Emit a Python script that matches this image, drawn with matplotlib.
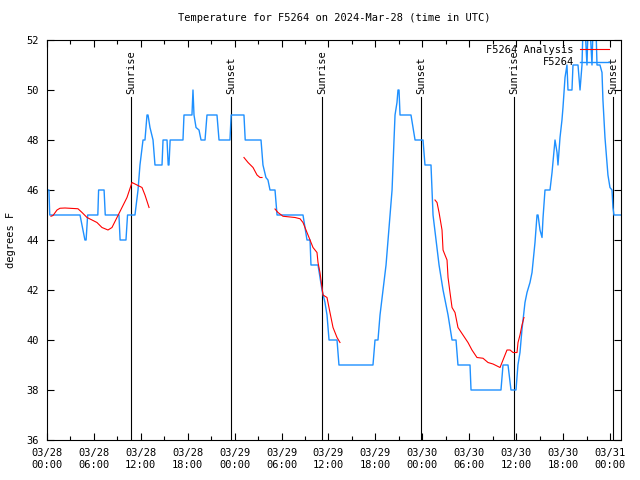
import matplotlib
matplotlib.use("Agg")
import matplotlib.pyplot as plt
from matplotlib.ticker import MultipleLocator
import numpy as np

plt.rcParams['font.family'] = ['DejaVu Sans Mono']

# hours since 2024-03-28 00:00 UTC
obs_hours = [0.00, 0.25, 0.35, 4.22, 4.85, 5.00, 5.20, 6.50, 6.60, 7.30, 7.45, 9.20, 9.35, 10.10,
             10.30, 11.25, 11.64, 11.89, 12.28, 12.53, 12.79, 12.92, 13.17, 13.56, 13.81, 14.71,
             14.84, 15.35, 15.50, 15.60, 15.75, 17.39, 17.52, 18.54, 18.67, 18.80, 19.06, 19.44,
             19.70, 20.21, 20.46, 21.74, 22.00, 23.40, 23.55, 25.19, 25.35, 27.37, 27.62, 28.00,
             28.26, 28.52, 29.16, 29.42, 32.74, 33.00, 33.25, 33.64, 33.76, 34.66, 34.91, 35.17,
             35.55, 35.81, 36.07, 37.09, 37.34, 41.69, 41.95, 42.33, 42.59, 42.97, 43.36, 43.62,
             43.87, 44.13, 44.25, 44.38, 44.51, 44.76, 44.89, 45.02, 45.15, 46.55, 47.07, 48.09,
             48.34, 49.11, 49.24, 49.37, 49.75, 50.14, 50.65, 51.29, 51.80, 52.31, 52.56, 54.10,
             54.23, 58.06, 58.32, 58.96, 59.34, 59.98, 60.23, 60.49, 60.74, 61.13, 61.39, 61.77,
             62.03, 62.16, 62.41, 62.67, 62.80, 63.05, 63.31, 63.44, 63.69, 64.33, 64.59, 64.71,
             64.97, 65.23, 65.35, 65.61, 65.86, 65.99, 66.25, 66.50, 66.63, 67.14, 67.27, 67.91,
             68.17, 68.42, 68.55, 68.81, 69.06, 69.19, 69.45, 69.70, 69.83, 70.21, 70.34, 70.72,
             70.98, 71.10, 71.36, 71.62, 71.74, 72.00, 72.26, 72.38, 72.51, 73.41]
obs_temp = [46, 46, 45, 45, 44, 44, 45, 45, 46, 46, 45, 45, 44, 44,
            45, 45, 46, 47, 48, 48, 49, 49, 48.5, 48, 47, 47,
            48, 48, 47, 47, 48, 48, 49, 49, 50, 49, 48.5, 48.4,
            48, 48, 49, 49, 48, 48, 49, 49, 48, 48, 47, 46.5,
            46.4, 46, 46, 45, 45, 44.5, 44, 44, 43, 43, 42.5, 42,
            41.5, 41, 40, 40, 39, 39, 40, 40, 41, 42, 43, 44,
            45, 46, 47, 48, 49, 49.5, 50, 50, 49, 49, 48, 48,
            47, 47, 46, 45, 44, 43, 42, 41, 40, 40, 39, 39,
            38, 38, 39, 39, 38, 38, 39, 39.5, 40.4, 41.5, 41.9, 42.3,
            42.7, 43.1, 43.9, 45, 45, 44.4, 44.1, 44.9, 46, 46, 46.7, 47.1,
            48, 47.5, 47, 48.1, 48.8, 49.3, 50.5, 51, 50, 50, 51, 51,
            50, 51, 52.5, 52.5, 51, 52.5, 52.5, 51, 52.5, 52.5, 51, 51,
            50.7, 49.6, 48.1, 47.1, 46.6, 46.1, 46, 45.3, 45, 45]

# analysis series, nan = gap
ana_hours = [0.51, 0.77, 1.28, 1.66, 2.30, 3.96, 4.48, 5.12, 5.76, 6.39, 7.03, 7.80, 8.31, 8.95,
             9.59, 10.23, 10.87, 11.51, 12.15, 12.53, 13.05, 13.10,
             25.19, 25.71, 26.35, 26.86, 27.24, 27.50, 27.60,
             29.16, 29.54, 30.18, 31.72, 32.36, 32.74, 33.25, 33.64, 34.02, 34.53, 34.66, 34.91,
             35.17, 35.30, 35.81, 36.19, 36.58, 37.09, 37.47, 37.55,
             49.62, 49.88, 50.14, 50.52, 50.65, 50.90, 51.16, 51.29, 51.54, 51.80, 52.18, 52.56,
             53.20, 53.84, 54.35, 54.99, 55.76, 56.40, 57.04, 57.94, 58.32, 58.83, 59.22, 59.60,
             60.11, 60.24, 60.49, 60.75, 61.00]
ana_temp = [44.95, 44.98, 45.2, 45.27, 45.28, 45.25, 45.1, 44.9, 44.8, 44.7, 44.5, 44.4, 44.5, 44.9,
            45.3, 45.7, 46.3, 46.2, 46.1, 45.8, 45.3, np.nan,
            47.3, 47.1, 46.9, 46.6, 46.5, 46.5, np.nan,
            45.24, 45.1, 44.95, 44.9, 44.85, 44.7, 44.3, 44.0, 43.7, 43.5, 43.1, 42.7,
            42.1, 41.8, 41.7, 41.1, 40.5, 40.1, 39.9, np.nan,
            45.6, 45.5, 45.1, 44.4, 43.6, 43.4, 43.2, 42.5, 41.9, 41.3, 41.1, 40.5,
            40.2, 39.9, 39.6, 39.3, 39.27, 39.1, 39.04, 38.9, 39.2, 39.6, 39.6, 39.5,
            39.5, 39.9, 40.2, 40.6, 40.9]

sun_hours = [10.74, 23.53, 35.17, 47.86, 59.73, 72.38]
sun_labels = ['Sunrise', 'Sunset', 'Sunrise', 'Sunset', 'Sunrise', 'Sunset']

tick_hours = list(range(0, 73, 6))
tick_dates = ['03/28'] * 4 + ['03/29'] * 4 + ['03/30'] * 4 + ['03/31']
tick_times = ['00:00', '06:00', '12:00', '18:00'] * 3 + ['00:00']

fig = plt.figure(figsize=(6.4, 4.8), dpi=100)
ax = fig.add_axes([47 / 640, 40 / 480, 574 / 640, 400 / 480])

for h, lab in zip(sun_hours, sun_labels):
    ax.plot([h, h], [36, 49.72], color='black', lw=0.8, zorder=1)
    ax.text(h, 49.84, lab, rotation=90, ha='center', va='bottom', fontsize=7.5)

ax.plot(ana_hours, ana_temp, color='#ff0000', lw=0.8, label='F5264 Analysis', zorder=3)
ax.plot(obs_hours, obs_temp, color='#1e90ff', lw=1.0, label='F5264', zorder=2)

ax.set_xlim(0, 73.41)
ax.set_ylim(36, 52)
ax.set_yticks(range(36, 53, 2))
ax.set_xticks(tick_hours)
ax.set_xticklabels([d + '\n' + t for d, t in zip(tick_dates, tick_times)])
ax.xaxis.set_minor_locator(MultipleLocator(3))
ax.tick_params(direction='in', top=True, right=True, labelsize=7.5, length=5, width=0.8)
ax.tick_params(which='minor', direction='in', top=True, length=3, width=0.8)
ax.tick_params(axis='x', pad=6)
ax.tick_params(axis='y', pad=6)
for s in ax.spines.values():
    s.set_linewidth(0.8)

ax.set_ylabel('degrees F', fontsize=7.5, labelpad=7)
ax.set_title('Temperature for F5264 on 2024-Mar-28 (time in UTC)', fontsize=7.5, pad=14)

ax.legend(loc='upper right', bbox_to_anchor=(0.992, 1.006), frameon=False, markerfirst=False,
          fontsize=7.5, handlelength=2.8, handletextpad=0.6, labelspacing=0.25,
          borderaxespad=0.3)

fig.savefig('out.png', dpi=100)
